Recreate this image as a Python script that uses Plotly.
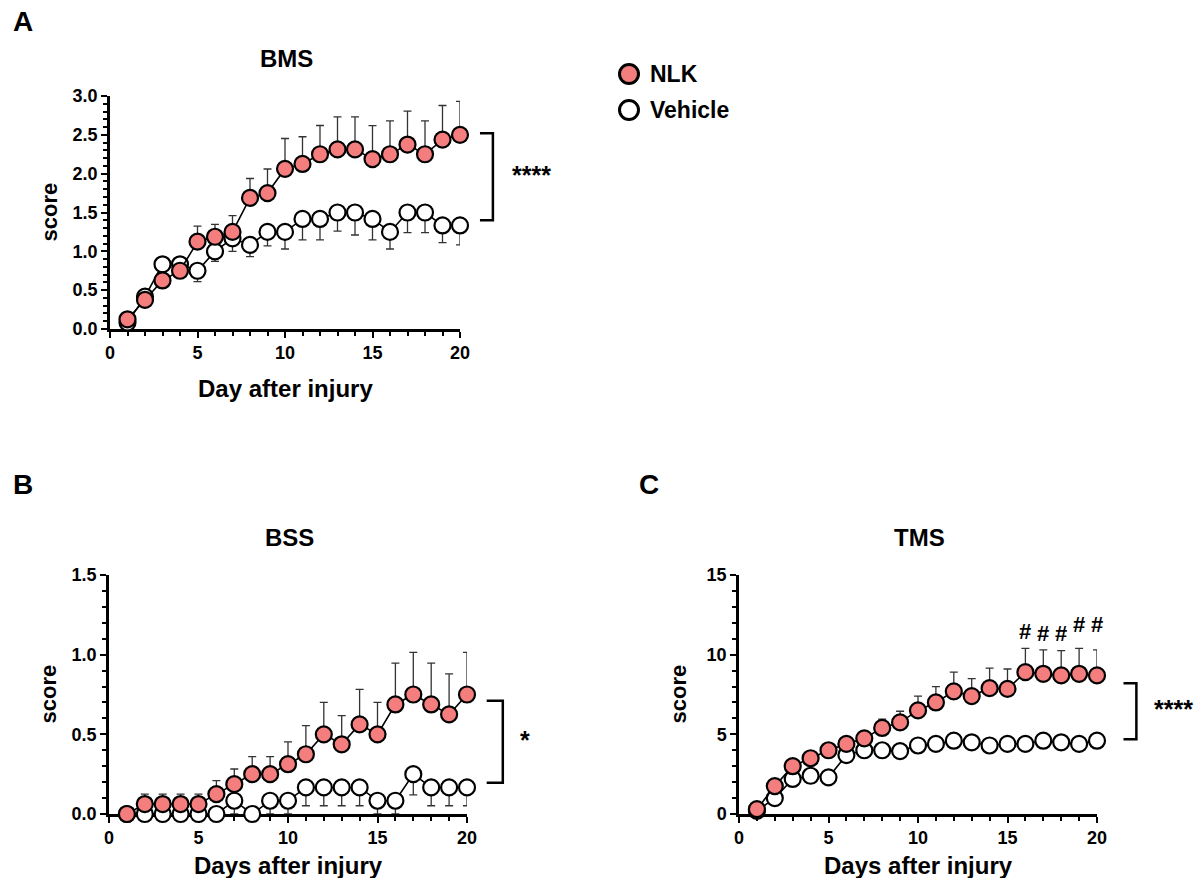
import plotly.graph_objects as go

# ---------------- data ----------------
days = list(range(1, 21))

bms_nlk = [0.125, 0.375, 0.625, 0.75, 1.125, 1.1875, 1.25, 1.6875, 1.75, 2.0625,
           2.125, 2.25, 2.3125, 2.3125, 2.1875, 2.25, 2.375, 2.25, 2.4375, 2.5]
bms_nlk_sem = [0.05, 0.06, 0.08, 0.08, 0.2, 0.16, 0.21, 0.25, 0.31, 0.39,
               0.35, 0.37, 0.42, 0.42, 0.43, 0.43, 0.43, 0.43, 0.44, 0.43]
bms_veh = [0.083, 0.417, 0.833, 0.833, 0.75, 1.0, 1.167, 1.083, 1.25, 1.25,
           1.417, 1.417, 1.5, 1.5, 1.417, 1.25, 1.5, 1.5, 1.333, 1.333]
bms_veh_sem = [0.05, 0.08, 0.1, 0.1, 0.14, 0.13, 0.167, 0.15, 0.18, 0.22,
               0.27, 0.27, 0.24, 0.29, 0.27, 0.22, 0.26, 0.26, 0.22, 0.25]

bss_nlk = [0, 0.0625, 0.0625, 0.0625, 0.0625, 0.125, 0.1875, 0.25, 0.25, 0.3125,
           0.375, 0.5, 0.4375, 0.5625, 0.5, 0.6875, 0.75, 0.6875, 0.625, 0.75]
bss_nlk_sem = [0, 0.0625, 0.0625, 0.0625, 0.0625, 0.085, 0.095, 0.11, 0.11, 0.14,
               0.18, 0.2, 0.18, 0.22, 0.2, 0.26, 0.265, 0.26, 0.255, 0.265]
bss_veh = [0, 0, 0, 0, 0, 0, 0.0833, 0, 0.0833, 0.0833,
           0.1667, 0.1667, 0.1667, 0.1667, 0.0833, 0.0833, 0.25, 0.1667, 0.1667, 0.1667]
bss_veh_sem = [0, 0, 0, 0, 0, 0, 0.0833, 0, 0.0833, 0.0833,
               0.115, 0.115, 0.115, 0.115, 0.0833, 0.0833, 0.13, 0.115, 0.115, 0.115]

tms_nlk = [0.3, 1.75, 3.0, 3.5, 4.0, 4.4, 4.75, 5.4, 5.75, 6.5,
           7.0, 7.7, 7.4, 7.9, 7.85, 8.9, 8.8, 8.7, 8.8, 8.7]
tms_nlk_sem = [0.2, 0.3, 0.3, 0.3, 0.3, 0.35, 0.4, 0.55, 0.7, 0.9,
               1.0, 1.2, 1.1, 1.25, 1.25, 1.5, 1.5, 1.55, 1.6, 1.6]
tms_veh = [0.2, 1.0, 2.2, 2.4, 2.3, 3.7, 4.0, 4.0, 3.95, 4.3,
           4.4, 4.6, 4.5, 4.3, 4.4, 4.4, 4.6, 4.5, 4.4, 4.6]
tms_veh_sem = [0.1, 0.2, 0.3, 0.3, 0.3, 0.3, 0.3, 0.3, 0.3, 0.3,
               0.3, 0.3, 0.3, 0.3, 0.3, 0.3, 0.3, 0.3, 0.3, 0.3]

hash_days = [16, 17, 18, 19, 20]
series_names = ["NLK", "Vehicle"]
panel_titles = ["BMS", "BSS", "TMS"]
x_titles = ["Day after injury", "Days after injury", "Days after injury"]
sig_labels = ["****", "*", "****"]

# ---------------- style ----------------
W, H = 1196, 878
FONT = "Liberation Sans, Arial, sans-serif"
RED = "#F47E7E"
ERR = "#333333"


def px(x):
    return x / W


def py(y):
    return 1 - y / H


# subplot pixel boxes: (left, right, top, bottom)
boxes = {
    "": (110, 460, 96, 329),
    "2": (109, 467, 575, 814),
    "3": (739, 1097, 575, 814),
}
xtitle_gap = {"": 59, "2": 51, "3": 51}

fig = go.Figure()

panels = [
    ("", bms_nlk, bms_nlk_sem, bms_veh, bms_veh_sem),
    ("2", bss_nlk, bss_nlk_sem, bss_veh, bss_veh_sem),
    ("3", tms_nlk, tms_nlk_sem, tms_veh, tms_veh_sem),
]

for sfx, nlk, nlk_sem, veh, veh_sem in panels:
    xa, ya = "x" + sfx, "y" + sfx
    # Vehicle first (drawn underneath)
    fig.add_trace(go.Scatter(
        x=days, y=veh, xaxis=xa, yaxis=ya, mode="lines+markers",
        name=series_names[1], showlegend=False, cliponaxis=False,
        line=dict(color="black", width=1.6),
        marker=dict(size=16, color="white", line=dict(color="black", width=2.2)),
        error_y=dict(type="data", symmetric=False, array=[0] * len(veh),
                     arrayminus=veh_sem, color=ERR, thickness=1.3, width=4),
    ))
    fig.add_trace(go.Scatter(
        x=days, y=nlk, xaxis=xa, yaxis=ya, mode="lines+markers",
        name=series_names[0], showlegend=False, cliponaxis=False,
        line=dict(color="black", width=1.6),
        marker=dict(size=16, color=RED, line=dict(color="black", width=2.2)),
        error_y=dict(type="data", symmetric=False, array=nlk_sem,
                     arrayminus=[0] * len(nlk), color=ERR, thickness=1.3, width=4),
    ))

tickfont = dict(family=FONT, size=18, color="black", weight="bold")

layout = dict(
    width=W, height=H, margin=dict(l=0, r=0, t=0, b=0, autoexpand=False),
    paper_bgcolor="white", plot_bgcolor="white",
    font=dict(family=FONT, color="black"),
    showlegend=False,
)

yranges = {"": (0, 3, 0.5, 0.1, ".1f"), "2": (0, 1.5, 0.5, 0.1, ".1f"), "3": (0, 15, 5, 1, "d")}
for sfx, (l, r, t, b) in boxes.items():
    layout["xaxis" + sfx] = dict(
        domain=[px(l), px(r)], anchor="y" + sfx, range=[0, 20],
        tickvals=[0, 5, 10, 15, 20], ticks="outside", ticklen=6, tickwidth=2,
        tickcolor="black", showline=True, linewidth=2.5, linecolor="black",
        showgrid=False, zeroline=False, tickfont=tickfont, layer="below traces",
        automargin=False,
        minor=dict(dtick=1, tick0=0, ticks="outside", ticklen=4, tickwidth=1.5,
                   tickcolor="black", showgrid=False),
    )
    y0, y1, dt, mdt, fmt = yranges[sfx]
    layout["yaxis" + sfx] = dict(
        domain=[py(b), py(t)], anchor="x" + sfx, range=[y0, y1],
        dtick=dt, tick0=0, tickformat=fmt, ticks="outside", ticklen=6, tickwidth=2,
        tickcolor="black", showline=True, linewidth=2.5, linecolor="black",
        showgrid=False, zeroline=False, tickfont=tickfont, layer="below traces",
        automargin=False,
        minor=dict(dtick=mdt, tick0=0, ticks="outside", ticklen=4, tickwidth=1.5,
                   tickcolor="black", showgrid=False),
    )

fig.update_layout(**layout)

annotations = []
shapes = []

# panel letters
for letter, x, y in [("A", 11, 22), ("B", 11, 484), ("C", 637, 484)]:
    annotations.append(dict(text=letter, x=px(x), y=py(y), xref="paper", yref="paper",
                            xanchor="left", yanchor="middle", showarrow=False,
                            font=dict(family=FONT, size=28, weight="bold")))

# panel titles, x titles, y titles
for i, (sfx, (l, r, t, b)) in enumerate(boxes.items()):
    cx = (l + r) / 2
    annotations.append(dict(text=panel_titles[i], x=px(cx + 1), y=py(t - 38), xref="paper",
                            yref="paper", xanchor="center", yanchor="middle", showarrow=False,
                            font=dict(family=FONT, size=24, weight="bold")))
    annotations.append(dict(text=x_titles[i], x=px(cx), y=py(b + xtitle_gap[sfx]),
                            xref="paper", yref="paper", xanchor="center", yanchor="middle",
                            showarrow=False, font=dict(family=FONT, size=24, weight="bold")))
    annotations.append(dict(text="score", x=px(l - 61), y=py((t + b) / 2), xref="paper",
                            yref="paper", xanchor="center", yanchor="middle", showarrow=False,
                            textangle=-90, font=dict(family=FONT, size=22, weight="bold")))

# significance brackets (x in axis-domain fraction, y in data units)
brackets = [
    ("", 2.52, 1.40, 1.057, 1.094, 1.143),
    ("2", 0.71, 0.196, 1.055, 1.1, 1.142),
    ("3", 8.2, 4.69, 1.074, 1.11, 1.155),
]
for i, (sfx, ytop, ybot, xl, xr, xt) in enumerate(brackets):
    xref = "x" + sfx + " domain"
    yref = "y" + sfx
    shapes.append(dict(type="path", xref=xref, yref=yref,
                       path=f"M {xl},{ytop} L {xr},{ytop} L {xr},{ybot} L {xl},{ybot}",
                       line=dict(color="black", width=2.5)))
    annotations.append(dict(text=sig_labels[i], x=xt, y=(ytop + ybot) / 2, xref=xref,
                            yref=yref, xanchor="left", yanchor="middle", showarrow=False,
                            yshift=2,
                            font=dict(family=FONT, size=25, weight="bold")))

# '#' marks above TMS error bars
hash_shift = [17, 16, 17, 24, 25]
for d, sh in zip(hash_days, hash_shift):
    idx = days.index(d)
    annotations.append(dict(text="#", x=d, y=tms_nlk[idx] + tms_nlk_sem[idx], xref="x3",
                            yref="y3", xanchor="center", yanchor="middle", yshift=sh,
                            showarrow=False, font=dict(family=FONT, size=22, weight="bold")))

# legend (drawn manually)
for name, fill, cy in [(series_names[0], RED, 74), (series_names[1], "white", 110)]:
    shapes.append(dict(type="circle", xref="paper", yref="paper", xsizemode="pixel",
                       ysizemode="pixel", xanchor=px(629), yanchor=py(cy),
                       x0=-9.5, x1=9.5, y0=-9.5, y1=9.5,
                       fillcolor=fill, line=dict(color="black", width=3)))
    annotations.append(dict(text=name, x=px(648), y=py(cy), xref="paper", yref="paper",
                            xanchor="left", yanchor="middle", showarrow=False,
                            font=dict(family=FONT, size=23, weight="bold")))

fig.update_layout(annotations=annotations, shapes=shapes)
fig.write_html("out.html")
